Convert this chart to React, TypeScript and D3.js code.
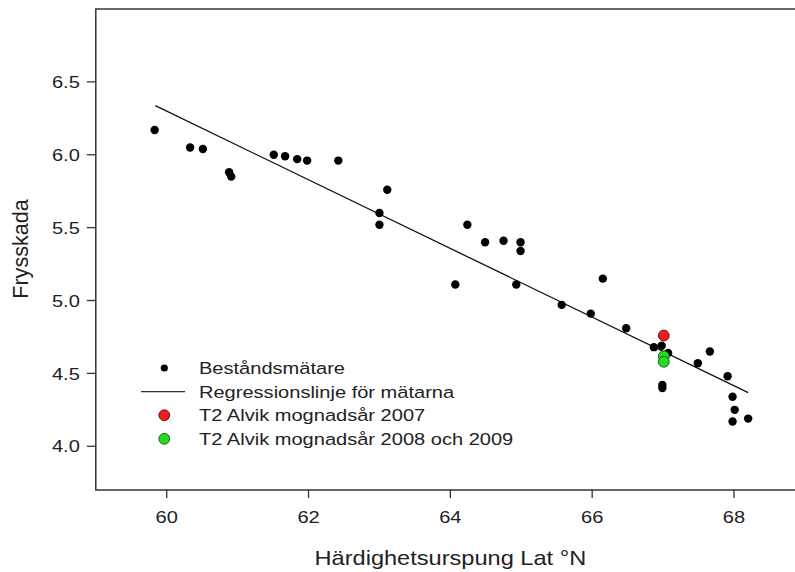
import React from "react";
import * as d3 from "d3";

const latX: number[] = [59.83, 60.33, 60.51, 60.88, 60.91, 61.51, 61.67, 61.84, 61.98, 62.42, 63.11, 63.0, 63.0, 64.24, 64.49, 64.75, 64.99, 64.99, 64.07, 64.93, 66.15, 65.57, 65.98, 66.48, 66.87, 66.98, 67.07, 66.99, 66.99, 67.49, 67.66, 67.91, 67.98, 68.01, 67.98, 68.2];
const damageY: number[] = [6.17, 6.05, 6.04, 5.88, 5.85, 6.0, 5.99, 5.97, 5.96, 5.96, 5.76, 5.6, 5.52, 5.52, 5.4, 5.41, 5.4, 5.34, 5.11, 5.11, 5.15, 4.97, 4.91, 4.81, 4.68, 4.69, 4.64, 4.42, 4.4, 4.57, 4.65, 4.48, 4.34, 4.25, 4.17, 4.19];

const redX: number[] = [67.01];
const redY: number[] = [4.76];
const greenX: number[] = [67.01, 67.01];
const greenY: number[] = [4.617, 4.58];

const regX: number[] = [59.84, 68.2];
const regY: number[] = [6.337, 4.368];

const xTicks: number[] = [60, 62, 64, 66, 68];
const yTicks: number[] = [4.0, 4.5, 5.0, 5.5, 6.0, 6.5];

const legendLabels: string[] = [
  "Beståndsmätare",
  "Regressionslinje för mätarna",
  "T2 Alvik mognadsår 2007",
  "T2 Alvik mognadsår 2008 och 2009",
];

const W = 795;
const H = 572;
const FONT = "'Liberation Sans', Arial, sans-serif";
const SX = 1.18;

export default function App() {
  const x = d3.scaleLinear().domain([59, 69]).range([95.8, 804.9]);
  const y = d3.scaleLinear().domain([3.7, 7.0]).range([490, 9]);
  const line = d3
    .line<number>()
    .x((d, i) => x(regX[i]))
    .y((d, i) => y(regY[i]));

  const legX = 141;
  const legTextX = 199;
  const legY0 = 368;
  const legStep = 23.6;

  return (
    <svg
      width={W}
      height={H}
      style={{ position: "absolute", left: 0, top: 0, background: "#fff" }}
      fontFamily={FONT}
    >
      <rect x={0} y={0} width={W} height={H} fill="#fff" />
      {/* frame */}
      <rect
        x={x(59)}
        y={y(7.0)}
        width={x(69) - x(59)}
        height={y(3.7) - y(7.0)}
        fill="none"
        stroke="#333"
        strokeWidth={1.5}
      />
      {/* y ticks */}
      {yTicks.map((t) => (
        <g key={"y" + t}>
          <line x1={x(59) - 9} x2={x(59)} y1={y(t)} y2={y(t)} stroke="#333" strokeWidth={1.3} />
          <text
            transform={`translate(${x(59) - 16},${y(t)}) scale(${SX},1)`}
            textAnchor="end"
            dy="0.36em"
            fontSize={17}
            fill="#222"
          >
            {t.toFixed(1)}
          </text>
        </g>
      ))}
      {/* x ticks */}
      {xTicks.map((t) => (
        <g key={"x" + t}>
          <line x1={x(t)} x2={x(t)} y1={y(3.7)} y2={y(3.7) + 8} stroke="#333" strokeWidth={1.3} />
          <text
            transform={`translate(${x(t)},523) scale(${SX},1)`}
            textAnchor="middle"
            fontSize={17}
            fill="#222"
          >
            {t}
          </text>
        </g>
      ))}
      {/* axis titles */}
      <text
        transform={`translate(${x(64)},565) scale(${SX},1)`}
        textAnchor="middle"
        fontSize={20}
        fill="#222"
      >
        Härdighetsurspung Lat °N
      </text>
      <text
        transform={`translate(28,249) rotate(-90) scale(1.08,1.1)`}
        textAnchor="middle"
        fontSize={20}
        fill="#222"
      >
        Frysskada
      </text>
      {/* regression */}
      <path d={line(regX) || ""} fill="none" stroke="#111" strokeWidth={1.3} />
      {/* points */}
      {latX.map((v, i) => (
        <circle key={"p" + i} cx={x(v)} cy={y(damageY[i])} r={4.2} fill="#000" />
      ))}
      {greenX.map((v, i) => (
        <circle key={"g" + i} cx={x(v)} cy={y(greenY[i])} r={5.4} fill="#22dd22" stroke="#1a5e1a" strokeWidth={1} />
      ))}
      {redX.map((v, i) => (
        <circle key={"r" + i} cx={x(v)} cy={y(redY[i])} r={5.4} fill="#ee1c1c" stroke="#6a1010" strokeWidth={1} />
      ))}
      {/* legend */}
      <circle cx={164.3} cy={legY0} r={3.6} fill="#000" />
      <line x1={legX} x2={185} y1={legY0 + legStep} y2={legY0 + legStep} stroke="#333" strokeWidth={1.3} />
      <circle cx={164.3} cy={legY0 + 2 * legStep} r={5.4} fill="#ee1c1c" stroke="#6a1010" strokeWidth={1} />
      <circle cx={164.3} cy={legY0 + 3 * legStep} r={5.4} fill="#22dd22" stroke="#1a5e1a" strokeWidth={1} />
      {legendLabels.map((l, i) => (
        <text
          key={"l" + i}
          transform={`translate(${legTextX},${legY0 + i * legStep}) scale(${SX},1)`}
          dy="0.36em"
          fontSize={17}
          fill="#222"
        >
          {l}
        </text>
      ))}
    </svg>
  );
}
